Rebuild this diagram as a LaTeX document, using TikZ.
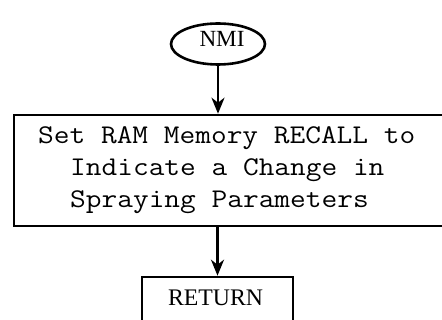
\documentclass[tikz,border=0pt]{standalone}
\usepackage{fontspec}
\usepackage{graphicx}
\usetikzlibrary{arrows.meta,shapes.geometric}
\newfontfamily\serifrm{Liberation Serif}
\newcommand{\ttline}[1]{\scalebox{1.13}[1]{\fontsize{27}{27}\selectfont\ttfamily #1}}
\newcommand{\rmlabel}[2]{\resizebox{#1}{!}{\fontsize{24}{24}\selectfont\serifrm #2}}
\tikzset{
  lw/.style={line width=2.6pt},
  arr/.style={lw,-{Stealth[length=16pt,width=13pt,inset=5pt]}},
  boxshape/.style={lw,draw,rectangle,inner sep=0pt},
  txt/.style={inner sep=0pt,anchor=base west},
  ctxt/.style={inner sep=0pt,anchor=base}
}
\begin{document}
\begin{tikzpicture}[x=1pt,y=-1pt]
\useasboundingbox (0,0) rectangle (442,320);
\clip (0,0) rectangle (442,320);
\node[lw,draw,ellipse,minimum width=94pt,minimum height=41pt,inner sep=0pt] (nmi) at (218,44) {};
\node[ctxt] (nmitext) at (222,47) {\rmlabel{45pt}{NMI}};
\node[boxshape,minimum width=437pt,minimum height=111pt] (box) at (232.5,170.5) {};
\node[txt] (l1) at (38,144) {\ttline{Set RAM Memory RECALL to}};
\node[txt] (l2) at (70,176) {\ttline{Indicate a Change in}};
\node[txt] (l3) at (70,208) {\ttline{Spraying Parameters}};
\node[boxshape,minimum width=151pt,minimum height=70pt] (ret) at (217.5,312) {};
\node[ctxt] (rettext) at (215.5,306) {\rmlabel{95pt}{RETURN}};
\draw[arr] (nmi.south) -- (nmi.south |- box.north);
\draw[arr] (box.south -| ret.north) -- (ret.north);
\end{tikzpicture}
\end{document}
